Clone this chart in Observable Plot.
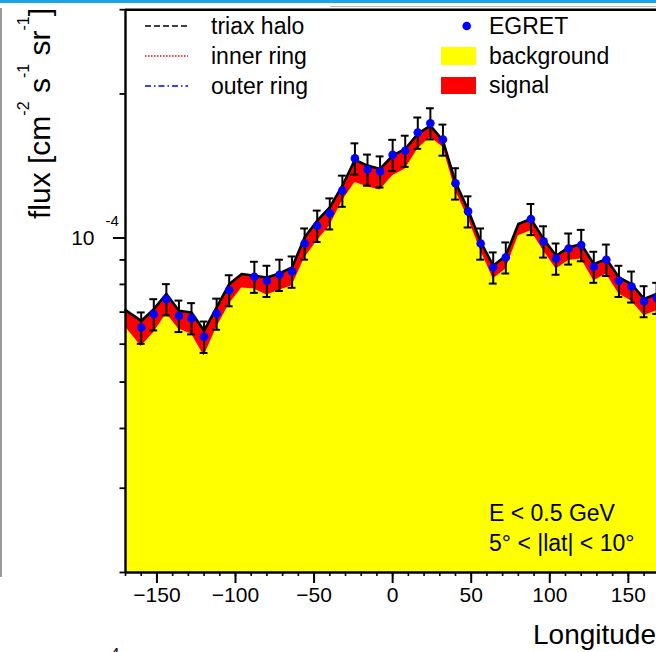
<!DOCTYPE html>
<html>
<head>
<meta charset="utf-8">
<script src="https://cdn.jsdelivr.net/npm/d3@7"></script>
<script src="https://cdn.jsdelivr.net/npm/@observablehq/plot@0.6"></script>
<style>
  html, body { margin: 0; padding: 0; background: #fff; }
  #wrap { position: relative; width: 656px; height: 652px; overflow: hidden; }
  #wrap svg { display: block; }
  .deco { position: absolute; }
</style>
</head>
<body>
<div id="wrap">
  <div class="deco" style="left:0;top:0;width:656px;height:3px;background:#1ba3e3;"></div>
  <div class="deco" style="left:330px;top:6px;width:326px;height:1px;background:#b8b8b8;"></div>
  <div class="deco" style="left:0;top:8px;width:1.5px;height:569px;background:#9a9a9a;"></div>
</div>
<script>
// ---- model curves (longitude in degrees, flux in cm^-2 s^-1 sr^-1) ----
const modelLon = [-170, -160, -152, -144, -136, -128, -120, -112, -104, -96, -88, -80, -72, -64,
  -56, -48, -40, -32, -24, -16, -8, 0, 8, 16, 24, 32, 40, 48, 56, 64, 72, 80, 88, 96, 104,
  112, 120, 128, 136, 144, 152, 160, 168];
const totalFlux = [7.07e-5, 6.71e-5, 7.10e-5, 7.64e-5, 7.05e-5, 6.99e-5, 6.40e-5, 7.16e-5, 8.01e-5,
  8.41e-5, 8.34e-5, 8.27e-5, 8.43e-5, 8.68e-5, 10.03e-5, 10.87e-5, 11.59e-5, 12.86e-5, 14.56e-5,
  14.17e-5, 13.94e-5, 14.86e-5, 15.35e-5, 16.51e-5, 17.18e-5, 15.98e-5, 13.07e-5, 11.46e-5,
  9.82e-5, 8.75e-5, 9.18e-5, 10.70e-5, 10.96e-5, 9.95e-5, 9.18e-5, 9.56e-5, 9.71e-5, 8.82e-5,
  9.04e-5, 8.27e-5, 8.01e-5, 7.46e-5, 7.64e-5];
const backgroundFlux = [6.52e-5, 5.93e-5, 6.35e-5, 6.95e-5, 6.45e-5, 6.30e-5, 5.67e-5, 6.50e-5,
  7.28e-5, 7.86e-5, 7.82e-5, 7.60e-5, 7.78e-5, 7.95e-5, 9.09e-5, 9.87e-5, 10.61e-5, 11.97e-5,
  13.07e-5, 12.80e-5, 12.60e-5, 13.50e-5, 13.94e-5, 15.35e-5, 16.24e-5, 15.47e-5, 12.56e-5,
  11.00e-5, 9.41e-5, 8.21e-5, 8.61e-5, 10.11e-5, 10.36e-5, 9.41e-5, 8.61e-5, 8.97e-5, 9.04e-5,
  8.14e-5, 8.41e-5, 7.64e-5, 7.39e-5, 6.88e-5, 7.05e-5];

// ---- EGRET data points ----
const egretLon = [-160, -152, -144, -136, -128, -120, -112, -104, -88, -80, -72, -64, -56, -48,
  -40, -32, -24, -16, -8, 0, 8, 16, 24, 32, 40, 48, 56, 64, 72, 88, 96, 104, 112, 120, 128,
  136, 144, 152, 160, 168];
const egretFlux = [6.50e-5, 6.93e-5, 7.45e-5, 6.88e-5, 6.80e-5, 6.22e-5, 6.95e-5, 7.78e-5, 8.30e-5,
  8.14e-5, 8.38e-5, 8.51e-5, 9.74e-5, 10.61e-5, 11.26e-5, 12.56e-5, 14.67e-5, 13.90e-5, 13.78e-5,
  14.92e-5, 15.22e-5, 16.61e-5, 17.37e-5, 16.06e-5, 13.01e-5, 11.37e-5, 9.74e-5, 8.68e-5,
  9.11e-5, 10.96e-5, 9.84e-5, 9.06e-5, 9.51e-5, 9.67e-5, 8.71e-5, 9.01e-5, 8.14e-5, 7.92e-5,
  7.38e-5, 7.50e-5];
const egretErr = [4.9e-6, 5.2e-6, 5.6e-6, 5.2e-6, 5.1e-6, 4.7e-6, 5.2e-6, 5.8e-6, 6.2e-6, 6.1e-6,
  6.3e-6, 6.4e-6, 7.3e-6, 8.0e-6, 8.4e-6, 9.4e-6, 11.0e-6, 10.4e-6, 10.3e-6, 11.2e-6, 11.4e-6,
  12.5e-6, 13.0e-6, 12.0e-6, 9.8e-6, 8.5e-6, 7.3e-6, 6.5e-6, 6.8e-6, 8.2e-6, 7.4e-6, 6.8e-6,
  7.1e-6, 7.3e-6, 6.5e-6, 6.8e-6, 6.1e-6, 5.9e-6, 5.5e-6, 5.6e-6];

// ---- axes ----
const xDomain = [-170, 180];
const yDomain = [2e-5, 3e-4];
const xMajorTicks = [-150, -100, -50, 0, 50, 100, 150];
const xMinorTicks = d3.range(-170, 181, 10);
const yMajorTicks = [1e-4];
const yMinorTicks = [2e-5, 3e-5, 4e-5, 5e-5, 6e-5, 7e-5, 8e-5, 9e-5, 2e-4, 3e-4];

const model = modelLon.map((lon, i) => ({lon, total: totalFlux[i], bg: backgroundFlux[i]}));
const egret = egretLon.map((lon, i) => ({lon, flux: egretFlux[i], err: egretErr[i]}));

const FONT = "'Liberation Sans', Arial, Helvetica, sans-serif";

const chart = Plot.plot({
  width: 656,
  height: 652,
  marginLeft: 125,
  marginRight: 0,
  marginTop: 9,
  marginBottom: 80,
  style: {fontFamily: FONT, background: "transparent", color: "black"},
  x: {domain: xDomain, range: [125, 675]},
  y: {type: "log", domain: yDomain, range: [572, 9.2]},
  marks: [
    Plot.areaY(model, {x: "lon", y1: yDomain[0], y2: "bg", fill: "#ffff00"}),
    Plot.areaY(model, {x: "lon", y1: "bg", y2: "total", fill: "#ff0000"}),
    Plot.line(model, {x: "lon", y: "total", stroke: "black", strokeWidth: 2.6}),
    Plot.axisX({ticks: xMinorTicks, tickSize: 4, tickFormat: () => "", label: null, strokeWidth: 1.6}),
    Plot.axisX({ticks: xMajorTicks, tickSize: 11, tickPadding: 4, fontSize: 21, label: null, strokeWidth: 2}),
    Plot.axisY({ticks: yMinorTicks, tickSize: 5.5, tickFormat: () => "", label: null, strokeWidth: 1.8}),
    Plot.axisY({ticks: yMajorTicks, tickSize: 12, tickFormat: () => "", label: null, strokeWidth: 2}),
    Plot.text(yMajorTicks, {y: d => d, frameAnchor: "left", text: () => "10", textAnchor: "end", dx: -31, fontSize: 21}),
    Plot.text(yMajorTicks, {y: d => d, frameAnchor: "left", text: d => String(Math.round(Math.log10(d))), textAnchor: "start", dx: -20, dy: -17, fontSize: 15}),
    Plot.ruleX(egret, {x: "lon", y1: d => d.flux - d.err, y2: d => d.flux + d.err, stroke: "black", strokeWidth: 2}),
    Plot.ruleY(egret, {y: d => d.flux + d.err, x1: d => d.lon - 2.5, x2: d => d.lon + 2.5, stroke: "black", strokeWidth: 2}),
    Plot.ruleY(egret, {y: d => d.flux - d.err, x1: d => d.lon - 2.5, x2: d => d.lon + 2.5, stroke: "black", strokeWidth: 2}),
    Plot.dot(egret, {x: "lon", y: "flux", r: 4.3, fill: "#0000ff"}),
    Plot.ruleY([yDomain[0], yDomain[1]], {stroke: "black", strokeWidth: 2.4}),
    Plot.ruleX([xDomain[0]], {stroke: "black", strokeWidth: 2.4})
  ]
});

document.getElementById("wrap").appendChild(chart);

// ---- titles, legend and annotation ----
const svg = d3.select(chart);
const g = svg.append("g").attr("font-family", FONT).attr("fill", "black").attr("text-anchor", "start");

// y title with superscripts
const yt = g.append("text").attr("transform", "translate(50,219) rotate(-90)")
  .attr("font-size", 30).attr("text-anchor", "start");
const ySup = -21;
[["flux [cm", 0], ["-2", 1], [" s", 0], ["-1", 1], [" sr", 0], ["-1", 1], ["]", 0]].reduce((prev, [t, sup]) => {
  const shift = (sup ? ySup : 0) - prev;
  yt.append("tspan").attr("dy", shift).attr("font-size", sup ? 16 : 30).text(t);
  return sup ? ySup : 0;
}, 0);

// x title
g.append("text").attr("x", 533).attr("y", 644).attr("font-size", 28).text("Longitude");

// lower panel fragment
g.append("text").attr("x", 106).attr("y", 658).attr("font-size", 15).text("-4");

// legend (left column)
const lineLegend = [
  {label: "triax halo", color: "black", dash: "6,3", y: 26},
  {label: "inner ring", color: "red", dash: "1.5,1.5", y: 56},
  {label: "outer ring", color: "blue", dash: "6,3,1.5,3", y: 86}
];
lineLegend.forEach(d => {
  g.append("line").attr("x1", 145).attr("x2", 188).attr("y1", d.y).attr("y2", d.y)
    .attr("stroke", d.color).attr("stroke-width", 1.6).attr("stroke-dasharray", d.dash);
  g.append("text").attr("x", 211).attr("y", d.y + 8).attr("font-size", 23).text(d.label);
});

// legend (right column)
g.append("circle").attr("cx", 466.7).attr("cy", 26).attr("r", 4.3).attr("fill", "#0000ff");
g.append("text").attr("x", 489).attr("y", 34).attr("font-size", 23).text("EGRET");
g.append("rect").attr("x", 441).attr("y", 47).attr("width", 35).attr("height", 18).attr("fill", "#ffff00");
g.append("text").attr("x", 489).attr("y", 64).attr("font-size", 23).text("background");
g.append("rect").attr("x", 441).attr("y", 77).attr("width", 35).attr("height", 17).attr("fill", "#ff0000");
g.append("text").attr("x", 489).attr("y", 93).attr("font-size", 23).text("signal");

// annotation
g.append("text").attr("x", 489).attr("y", 521).attr("font-size", 23).text("E < 0.5 GeV");
g.append("text").attr("x", 489).attr("y", 551).attr("font-size", 23).text("5° < |lat| < 10°");
</script>
</body>
</html>
